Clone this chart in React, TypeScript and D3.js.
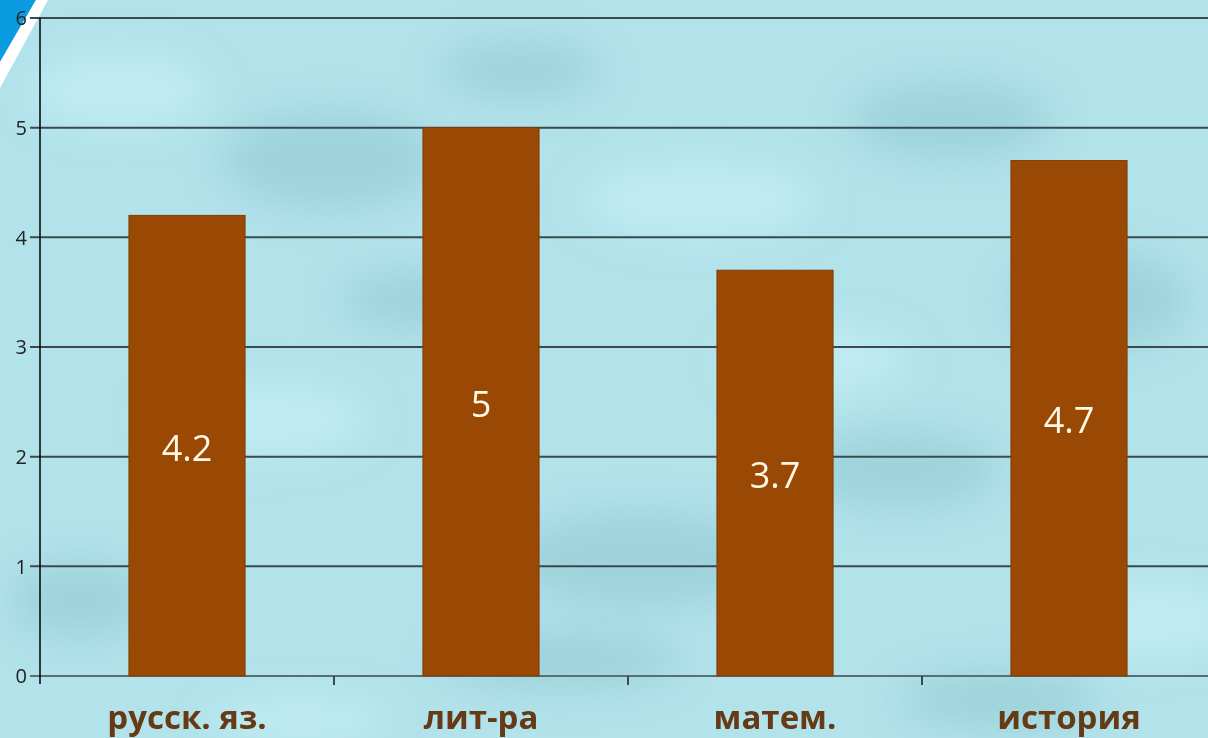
import React from "react";
import * as d3 from "d3";

const categories = ["русск. яз.", "лит-ра", "матем.", "история"];
const values = [4.2, 5, 3.7, 4.7];
const yTicks = [0, 1, 2, 3, 4, 5, 6];

const W = 1208;
const H = 738;

export default function App() {
  const x = d3.scaleBand<string>().domain(categories).range([40, 1216]).padding(0);
  const y = d3.scaleLinear().domain([0, 6]).range([676, 18]);
  const barW = x.bandwidth() * 0.395;

  const blobs = [
    [120, 90, 90, 40], [330, 160, 110, 50], [520, 70, 80, 30], [700, 200, 120, 40],
    [950, 120, 100, 40], [1100, 300, 90, 50], [260, 420, 110, 40], [640, 560, 130, 50],
    [900, 470, 100, 40], [1150, 620, 90, 40], [80, 600, 70, 40], [420, 300, 80, 30],
    [820, 360, 90, 35], [560, 660, 120, 30], [1000, 700, 100, 30], [300, 720, 90, 25],
  ];

  return (
    <svg width={W} height={H} style={{ position: "absolute", left: 0, top: 0, display: "block" }}>
      <defs>
        <filter id="blur" x="-50%" y="-50%" width="200%" height="200%">
          <feGaussianBlur stdDeviation="18" />
        </filter>
      </defs>
      <rect x={0} y={0} width={W} height={H} fill="#b2e2ea" />
      <g filter="url(#blur)">
        {blobs.map((b, i) => (
          <ellipse key={i} cx={b[0]} cy={b[1]} rx={b[2]} ry={b[3]}
            fill={i % 3 === 0 ? "#c8f2f8" : "#93cad4"} opacity={0.6} />
        ))}
      </g>
      {/* top-left decoration */}
      <polygon points="0,0 36,0 0,62" fill="#0a9be0" />
      <polygon points="36,0 48,0 0,88 0,62" fill="#ffffff" />

      {/* gridlines and y ticks */}
      {yTicks.map((t) => (
        <g key={t}>
          <line x1={30} x2={W} y1={y(t)} y2={y(t)}
            stroke={t === 0 ? "#5a6e74" : "#3a4a4e"} strokeWidth={2} />
          <text x={27} y={y(t)} dy="0.36em" textAnchor="end"
            fontFamily="'Open Sans', sans-serif" fontSize={20} fill="#222">{t}</text>
        </g>
      ))}
      {/* y axis */}
      <line x1={40} x2={40} y1={y(6)} y2={y(0) + 8} stroke="#000" strokeWidth={1.5} />
      {/* x ticks */}
      {categories.slice(1).map((c) => (
        <line key={c} x1={x(c)!} x2={x(c)!} y1={y(0)} y2={y(0) + 9} stroke="#3a4a4e" strokeWidth={2} />
      ))}

      {/* bars */}
      {categories.map((c, i) => {
        const cx = x(c)! + x.bandwidth() / 2;
        return (
          <g key={c}>
            <rect x={cx - barW / 2} y={y(values[i])} width={barW} height={y(0) - y(values[i])}
              fill="#9a4904" stroke="#7f3c05" strokeWidth={1} />
            <text x={cx} y={(y(values[i]) + y(0)) / 2 + 2} dy="0.36em" textAnchor="middle"
              fontFamily="'Open Sans', sans-serif" fontSize={36} fill="#fff8e6">{values[i]}</text>
            <text x={cx} y={729} textAnchor="middle"
              fontFamily="'Open Sans', sans-serif" fontWeight="bold" fontSize={33} fill="#653a14">{c}</text>
          </g>
        );
      })}
    </svg>
  );
}
